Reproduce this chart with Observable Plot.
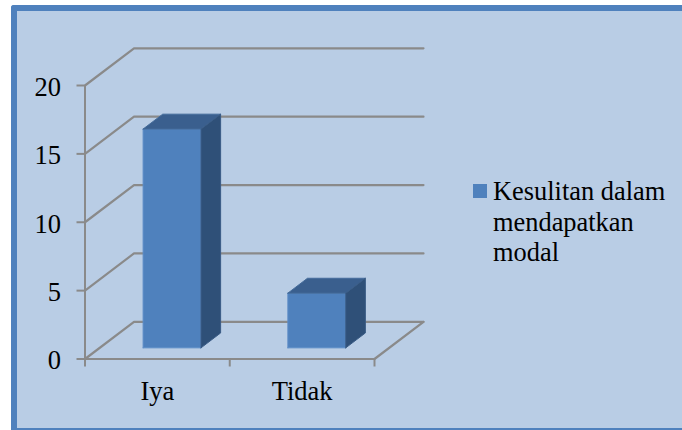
<!DOCTYPE html>
<html>
<head>
<meta charset="utf-8">
<script src="https://cdn.jsdelivr.net/npm/d3@7"></script>
<script src="https://cdn.jsdelivr.net/npm/@observablehq/plot@0.6"></script>
<style>
html, body { margin: 0; padding: 0; background: #fff; }
#stage { position: relative; width: 682px; height: 430px; overflow: hidden; font-family: "Liberation Serif", serif; }
#panel { position: absolute; left: 11px; top: 5px; width: 671px; height: 425px; box-sizing: border-box; background: #b9cde5; border: solid #4f81bd; border-width: 6px 0 2px 6px; border-radius: 3px 0 0 0; }
#chart { position: absolute; left: 0; top: 0; }
#legend { position: absolute; left: 473px; top: 176px; width: 205px; display: flex; align-items: flex-start; font-size: 26.4px; line-height: 30.5px; color: #000; }
#legend i { display: block; flex: none; width: 14px; height: 14px; background: #4f81bd; margin: 8px 6px 0 0; }
</style>
</head>
<body>
<div id="stage"><div id="panel"></div><div id="chart"></div>
<div id="legend"><i></i><span id="legend-text"></span></div></div>
<script>
const categories = ["Iya", "Tidak"];
const values = [16, 4];
const seriesName = "Kesulitan dalam mendapatkan modal";
const legendLines = ["Kesulitan dalam", "mendapatkan", "modal"];
const yTicks = [0, 5, 10, 15, 20];
const barSpan = [0.3, 0.7];
const depthSpan = [0.3, 0.7];

// Oblique projection: depth d (0..1) shifts a point in category and value units
const depthX = 0.3385, depthY = 2.72;
const pt = (c, v, d, id) => ({c: c + d * depthX, v: v + d * depthY, id});

const gridBack = yTicks.flatMap(v => [pt(0, v, 0, "g" + v), pt(0, v, 1, "g" + v), pt(categories.length, v, 1, "g" + v)]);
const floorSide = [pt(categories.length, 0, 0, "f"), pt(categories.length, 0, 1, "f")];

const faces = (side) => categories.flatMap((cat, i) => {
  const x0 = i + barSpan[0], x1 = i + barSpan[1], d0 = depthSpan[0], d1 = depthSpan[1], v = values[i];
  const id = cat + side;
  const corners = {
    front: [[x0, 0, d0], [x1, 0, d0], [x1, v, d0], [x0, v, d0]],
    top: [[x0, v, d0], [x1, v, d0], [x1, v, d1], [x0, v, d1]],
    side: [[x1, 0, d0], [x1, 0, d1], [x1, v, d1], [x1, v, d0]]
  }[side];
  return [...corners, corners[0]].map(p => pt(p[0], p[1], p[2], id));
});

const gridColor = "#8a8a8a";
const plot = Plot.plot({
  width: 682,
  height: 430,
  marginLeft: 84.5,
  marginRight: 258,
  marginTop: 85,
  marginBottom: 71.5,
  x: {domain: [0, categories.length], range: [84.5, 374]},
  y: {domain: [0, 20], range: [358.5, 85]},
  style: {background: "transparent", fontFamily: "'Liberation Serif', serif", overflow: "visible"},
  marks: [
    Plot.line(gridBack, {x: "c", y: "v", z: "id", stroke: gridColor, strokeWidth: 2.2}),
    Plot.line(floorSide, {x: "c", y: "v", z: "id", stroke: gridColor, strokeWidth: 2.2}),
    Plot.ruleX([0], {y1: 0, y2: 20, stroke: gridColor, strokeWidth: 2}),
    Plot.ruleY([0], {x1: 0, x2: categories.length, stroke: gridColor, strokeWidth: 2}),
    Plot.axisY({ticks: yTicks, tickSize: 8, stroke: gridColor, strokeWidth: 2, strokeOpacity: 1, tickFormat: () => "", label: null}),
    Plot.axisY({ticks: yTicks, tickSize: 0, tickPadding: 24, dy: 2, fill: "#000", fontSize: 26.5, label: null}),
    Plot.axisX({ticks: d3.range(categories.length + 1), tickSize: 8, stroke: gridColor, strokeWidth: 2, strokeOpacity: 1, tickFormat: () => "", label: null}),
    Plot.axisX({ticks: categories.map((_, i) => i + 0.5), tickSize: 0, tickPadding: 22.5, fill: "#000", fontSize: 26.5, tickFormat: t => categories[Math.floor(t)], label: null}),
    Plot.line(faces("front"), {x: "c", y: "v", z: "id", fill: "#4f81bd", stroke: "#5b8cc6", strokeWidth: 1}),
    Plot.line(faces("top"), {x: "c", y: "v", z: "id", fill: "#3a5f8e", stroke: "#446b9a", strokeWidth: 1}),
    Plot.line(faces("side"), {x: "c", y: "v", z: "id", fill: "#2f5078", stroke: "#3a5c86", strokeWidth: 1})
  ]
});
document.getElementById("chart").appendChild(plot);
document.getElementById("legend-text").innerHTML = legendLines.join("<br>");
</script>
</body>
</html>
